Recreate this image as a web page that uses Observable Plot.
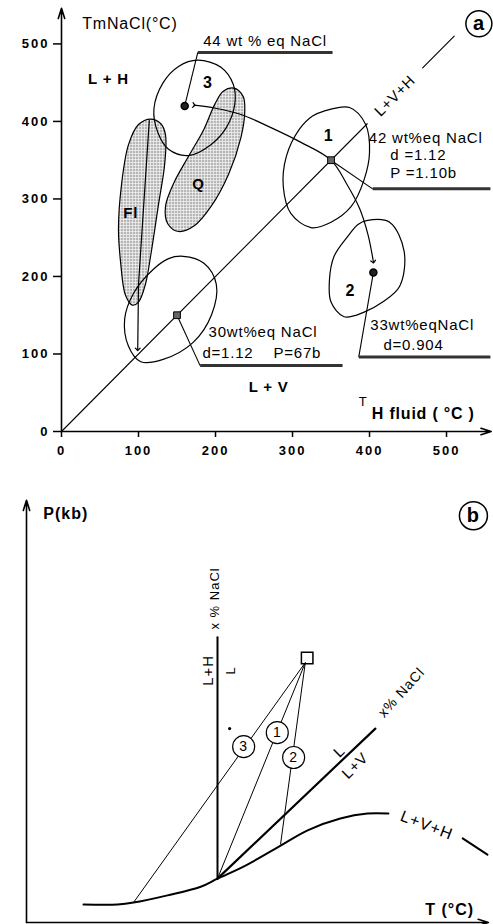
<!DOCTYPE html>
<html><head><meta charset="utf-8">
<script src="https://cdn.jsdelivr.net/npm/d3@7"></script>
<script src="https://cdn.jsdelivr.net/npm/@observablehq/plot@0.6"></script>
<style>
body{margin:0;background:#fff;}
#chart{width:493px;}
#chart svg{display:block;}
</style></head><body><div id="chart"></div>
<script>
// ---------- Panel (a) data : T_H fluid (°C) vs TmNaCl (°C) ----------
const xTicksA = [0, 100, 200, 300, 400, 500];
const yTicksA = [0, 100, 200, 300, 400, 500];
const blobFl = [[116,403],[129,397],[135,383],[134,345],[126,293],[116,228],[109,190],[100,167],[92,163],[83,176],[77,216],[74,261],[78,319],[87,370],[100,396]];
const blobQ = [[224,443],[236,432],[238,413],[233,379],[217,332],[194,290],[172,265],[152,258],[138,268],[135,290],[146,321],[165,355],[185,390],[199,422],[210,439]];
const field3 = [[177,479],[207,470],[223,448],[225,422],[214,392],[194,370],[165,356],[139,364],[125,386],[120,416],[132,450],[152,471]];
const field1 = [[340,413],[374,418],[395,396],[400,360],[393,325],[376,290],[350,270],[324,263],[298,281],[288,316],[292,355],[309,390],[326,407]];
const field2 = [[396,272],[426,270],[445,232],[439,187],[417,167],[393,154],[367,148],[350,167],[348,196],[354,226],[372,252],[385,267]];
const field4 = [[158,226],[185,217],[201,190],[195,151],[171,115],[132,93],[103,90],[87,110],[82,145],[94,179],[119,209],[139,223]];
const roundPts = [{x:160, y:420}, {x:405, y:205}];
const squarePts = [{x:350, y:350}, {x:150, y:150}];
const evolution = [[172,421],[200,417],[233,409],[272,392],[311,373],[350,350],[370,320],[387,288],[398,254],[405,219]];
const flPath = [[114,401],[100,190],[99,106]];
const diagLow = [[0,0],[397,397]];
const diagHigh = [[469,469],[510,510]];
const leaders = [
  {x1:160, y1:420, x2:177, y2:489},
  {x1:350, y1:350, x2:404, y2:313},
  {x1:405, y1:205, x2:386, y2:96},
  {x1:150, y1:150, x2:180, y2:85}
];
const underlines = [
  {x1:177, y1:489, x2:352, y2:489},
  {x1:404, y1:313, x2:557, y2:313},
  {x1:386, y1:96, x2:557, y2:96},
  {x1:180, y1:85, x2:365, y2:85}
];
const infoA = [
  {x:184, y:504, text:"44 wt % eq NaCl"},
  {x:399, y:379, text:"42 wt%eq NaCl"},
  {x:427, y:356, text:"d =1.12"},
  {x:427, y:333, text:"P =1.10b"},
  {x:401, y:137, text:"33wt%eqNaCl"},
  {x:418, y:111, text:"d=0.904"},
  {x:191, y:128, text:"30wt%eq NaCl"},
  {x:183, y:101, text:"d=1.12    P=67b"}
];
const phaseA = [{x:61, y:454, text:"L + H"}, {x:269, y:57, text:"L + V"}];
const numsA = [{x:190, y:450, text:"3"}, {x:347, y:382, text:"1"}, {x:375, y:182, text:"2"}];
const mineralA = [{x:178, y:319, text:"Q"}, {x:90, y:281, text:"Fl"}];
const diagLabelA = [{x:433, y:433, text:"L+V+H"}];
const axisEndsA = [{x1:0, y1:0, x2:558, y2:0}, {x1:0, y1:0, x2:0, y2:546}];
const titleYA = [{x:27, y:526, text:"TmNaCl(°C)"}];
const titleXA_T = [{x:386, y:38, text:"T"}];
const titleXA_H = [{x:403, y:23, text:"H fluid ( °C )"}];
const panelA = [{x:542, y:526, text:"a"}];

// ---------- Panel (b) data : schematic P (kb) vs T (°C) ----------
const curveLVH = [[12.2,4.0],[19.5,4.0],[22.9,4.4],[30.2,6.0],[37.3,7.9],[40.9,9.7],[46.9,12.6],[54.4,17.0],[60.2,20.4],[67.2,23.0],[73.0,24.1],[77.5,24.1]];
const tailLVH = [[93.4,18.6],[98.7,15.0]];
const isoplethLH = [[40.9,9.7],[40.9,63.1]];
const isoplethLV = [[40.9,9.7],[74.7,42.9]];
const trapPoint = [{x:60.1, y:58.5}];
const isochores = [
  {x1:59.7, y1:57.5, x2:22.9, y2:4.4},
  {x1:59.7, y1:57.5, x2:40.9, y2:9.7},
  {x1:59.7, y1:57.5, x2:54.4, y2:17.3}
];
const isochoreLabels = [{x:46.5, y:38.9, text:"3"}, {x:53.7, y:42.0, text:"1"}, {x:57.2, y:36.5, text:"2"}];
const strayDot = [{x:43.5, y:42.9}];
const axisEndsB = [{x1:0, y1:0, x2:98.9, y2:0}, {x1:0, y1:0, x2:0, y2:93.4}];
const vertLabels = [
  {x:40.3, y:71.7, text:"x % NaCl", size:13, weight:"normal"},
  {x:38.8, y:55.8, text:"L+H", size:15, weight:"bold"},
  {x:43.7, y:55.8, text:"L", size:13, weight:"normal"}
];
const diagLabelsB = [
  {x:80.3, y:50.9, text:"x% NaCl"},
  {x:67.0, y:37.8, text:"L"},
  {x:70.4, y:34.7, text:"L+V"}
];
const curveLabelB = [{x:85.7, y:21.5, text:"L+V+H"}];
const titleYB = [{x:3.6, y:90.5, text:"P(kb)"}];
const titleXB = [{x:85.4, y:2.7, text:"T (°C)"}];
const panelB = [{x:95.7, y:90.0, text:"b"}];

const FONT = "'Liberation Sans', Arial, Helvetica, sans-serif";
const xy = {x: "x", y: "y"};
const lnk = {x1:"x1", y1:"y1", x2:"x2", y2:"y2"};

const A = Plot.plot({
  width: 493, height: 470,
  marginLeft: 61, marginRight: 0, marginTop: 0, marginBottom: 39,
  x: {domain: [0, 561]},
  y: {domain: [0, 556]},
  style: {fontFamily: FONT, background: "white", color: "black", overflow: "visible"},
  marks: [
    Plot.line(blobFl, {curve: "catmull-rom-closed", fill: "url(#dots)", stroke: "black", strokeWidth: 1.2}),
    Plot.line(blobQ, {curve: "catmull-rom-closed", fill: "url(#dots)", stroke: "black", strokeWidth: 1.2}),
    Plot.line(field3, {curve: "catmull-rom-closed", stroke: "black", strokeWidth: 1.2}),
    Plot.line(field1, {curve: "catmull-rom-closed", stroke: "black", strokeWidth: 1.2}),
    Plot.line(field2, {curve: "catmull-rom-closed", stroke: "black", strokeWidth: 1.2}),
    Plot.line(field4, {curve: "catmull-rom-closed", stroke: "black", strokeWidth: 1.2}),
    Plot.line(diagLow, {stroke: "black", strokeWidth: 1.1}),
    Plot.line(diagHigh, {stroke: "black", strokeWidth: 1.1}),
    Plot.line(evolution, {curve: "catmull-rom", stroke: "black", strokeWidth: 1.2, markerStart: "arrow", markerEnd: "arrow"}),
    Plot.line(flPath, {stroke: "black", strokeWidth: 1.2, markerEnd: "arrow"}),
    Plot.link(leaders, {...lnk, stroke: "black", strokeWidth: 1.1}),
    Plot.link(underlines, {...lnk, stroke: "#333", strokeWidth: 3}),
    Plot.dot(roundPts, {...xy, r: 3.5, fill: "#222", stroke: "black"}),
    Plot.dot(squarePts, {...xy, symbol: "square", r: 3.8, fill: "#666", stroke: "black", strokeWidth: 1}),
    Plot.arrow(axisEndsA, {...lnk, stroke: "black", strokeWidth: 1.6, headLength: 10, headAngle: 35}),
    Plot.axisX({ticks: xTicksA, tickSize: 6, tickPadding: 8, fontSize: 13, fontWeight: "bold", label: null, strokeWidth: 1.5}),
    Plot.axisY({ticks: yTicksA, tickSize: 8, tickPadding: 4, fontSize: 13, fontWeight: "bold", label: null, strokeWidth: 1.5}),
    Plot.text(infoA, {...xy, text: "text", textAnchor: "start", fontSize: 15}),
    Plot.text(phaseA, {...xy, text: "text", fontSize: 15, fontWeight: "bold"}),
    Plot.text(numsA, {...xy, text: "text", fontSize: 16, fontWeight: "bold"}),
    Plot.text(mineralA, {...xy, text: "text", fontSize: 15, fontWeight: "bold"}),
    Plot.text(diagLabelA, {...xy, text: "text", fontSize: 15, rotate: -45}),
    Plot.text(titleYA, {...xy, text: "text", textAnchor: "start", fontSize: 16}),
    Plot.text(titleXA_T, {...xy, text: "text", textAnchor: "start", fontSize: 13}),
    Plot.text(titleXA_H, {...xy, text: "text", textAnchor: "start", fontSize: 16, fontWeight: "bold"}),
    Plot.dot(panelA, {...xy, r: 13, stroke: "black", strokeWidth: 1.5, fill: "white"}),
    Plot.text(panelA, {...xy, text: "text", fontSize: 20, fontWeight: "bold"})
  ]
});

const B = Plot.plot({
  width: 493, height: 454,
  marginLeft: 26, marginRight: 0, marginTop: 0, marginBottom: 2,
  x: {domain: [0, 100], axis: null},
  y: {domain: [0, 100], axis: null},
  style: {fontFamily: FONT, background: "white", color: "black", overflow: "visible"},
  marks: [
    Plot.line(curveLVH, {curve: "catmull-rom", stroke: "black", strokeWidth: 2}),
    Plot.line(tailLVH, {stroke: "black", strokeWidth: 2}),
    Plot.line(isoplethLH, {stroke: "black", strokeWidth: 2}),
    Plot.line(isoplethLV, {stroke: "black", strokeWidth: 2.2}),
    Plot.link(isochores, {...lnk, stroke: "black", strokeWidth: 1}),
    Plot.dot(isochoreLabels, {...xy, r: 11, fill: "white", stroke: "black", strokeWidth: 1.2}),
    Plot.text(isochoreLabels, {...xy, text: "text", fontSize: 14}),
    Plot.dot(trapPoint, {...xy, symbol: "square", r: 6.5, fill: "none", stroke: "black", strokeWidth: 1.5}),
    Plot.dot(strayDot, {...xy, r: 1.6, fill: "black", stroke: null}),
    Plot.arrow(axisEndsB, {...lnk, stroke: "black", strokeWidth: 1.6, headLength: 10, headAngle: 35}),
    Plot.text(vertLabels, {...xy, text: "text", rotate: -90, fontSize: d => d.size, fontWeight: d => d.weight}),
    Plot.text(diagLabelsB.slice(0, 1), {...xy, text: "text", rotate: -48, fontSize: 14}),
    Plot.text(diagLabelsB.slice(1), {...xy, text: "text", rotate: -45, fontSize: 15}),
    Plot.text(curveLabelB, {...xy, text: "text", rotate: 21, fontSize: 16}),
    Plot.text(titleYB, {...xy, text: "text", textAnchor: "start", fontSize: 16, fontWeight: "bold"}),
    Plot.text(titleXB, {...xy, text: "text", textAnchor: "start", fontSize: 16, fontWeight: "bold"}),
    Plot.dot(panelB, {...xy, r: 14, stroke: "black", strokeWidth: 1.5, fill: "white"}),
    Plot.text(panelB, {...xy, text: "text", fontSize: 20, fontWeight: "bold"})
  ]
});

// dotted shading pattern for the mineral fields
const defs = d3.select(A).insert("defs", ":first-child");
const pat = defs.append("pattern").attr("id", "dots").attr("width", 3).attr("height", 3).attr("patternUnits", "userSpaceOnUse");
pat.append("rect").attr("width", 3).attr("height", 3).attr("fill", "#eeeeee");
pat.append("circle").attr("cx", 1.5).attr("cy", 1.5).attr("r", 0.75).attr("fill", "#444");

d3.select(A).selectAll('[aria-label="y-axis tick label"] text, [aria-label="x-axis tick label"] text').attr("letter-spacing", 2);
d3.select(A).selectAll('[aria-label="text"] text').attr("letter-spacing", 0.8);
d3.select(B).selectAll('[aria-label="text"] text').attr("letter-spacing", 1);

document.getElementById("chart").append(A, B);
</script></body></html>
